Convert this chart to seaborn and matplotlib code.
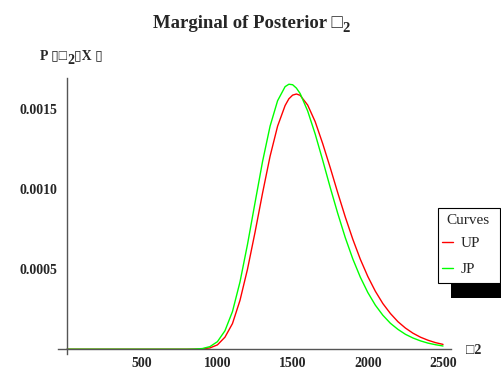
import numpy as np
import pandas as pd
import matplotlib
matplotlib.use("Agg")
import matplotlib.pyplot as plt
from matplotlib.lines import Line2D
from matplotlib.patches import Rectangle
from matplotlib.ticker import MultipleLocator
import seaborn as sns

# ---------------- data ----------------
sigma2 = [0, 200, 400, 600, 800, 850, 900, 950, 1000, 1050, 1100, 1150, 1200,
          1250, 1300, 1350, 1400, 1450, 1475, 1500, 1525, 1550, 1600, 1650,
          1700, 1750, 1800, 1850, 1900, 1950, 2000, 2050, 2100, 2150, 2200,
          2250, 2300, 2350, 2400, 2450, 2500]

up_dens = [0, 0, 0, 0, 0, 0.0000005, 0.000002, 0.000008, 0.000027, 0.000075,
           0.000160, 0.000305, 0.000500, 0.000730, 0.000975, 0.001205,
           0.001393, 0.001522, 0.001564, 0.001587, 0.001594, 0.001586,
           0.001525, 0.001421, 0.001284, 0.001134, 0.000977, 0.000826,
           0.000687, 0.000562, 0.000454, 0.000362, 0.000285, 0.000223,
           0.000172, 0.000132, 0.000100, 0.000075, 0.000056, 0.000041,
           0.000030]

jp_dens = [0, 0, 0, 0, 0, 0.000001, 0.000004, 0.000016, 0.000047, 0.000115,
           0.000235, 0.000420, 0.000655, 0.000915, 0.001172, 0.001393,
           0.001552, 0.001640, 0.001655, 0.001652, 0.001631, 0.001597,
           0.001488, 0.001344, 0.001180, 0.001010, 0.000848, 0.000697,
           0.000564, 0.000450, 0.000354, 0.000275, 0.000212, 0.000162,
           0.000124, 0.000093, 0.000070, 0.000052, 0.000038, 0.000028,
           0.000020]

curve_names = ["UP", "JP"]
curve_colors = {"UP": "#ff0000", "JP": "#00ff00"}

x_ticks = [500, 1000, 1500, 2000, 2500]
y_ticks = [0.0005, 0.0010, 0.0015]
y_tick_labels = ["0.0005", "0.0010", "0.0015"]

df = pd.DataFrame({
    "sigma2": sigma2 + sigma2,
    "dens": up_dens + jp_dens,
    "curve": ["UP"] * len(sigma2) + ["JP"] * len(sigma2),
})

# ---------------- plot ----------------
sns.set_style("white")
plt.rcParams["font.family"] = ["Liberation Serif", "DejaVu Sans"]

fig = plt.figure(figsize=(5.01, 3.71), dpi=100)
ax = fig.add_axes([58 / 501, 17 / 371, 393 / 501, 276 / 371])

sns.lineplot(data=df, x="sigma2", y="dens", hue="curve", hue_order=curve_names,
             palette=curve_colors, linewidth=1.0, legend=False, ax=ax)

ax.set_xlim(-60, 2553)
ax.set_ylim(-0.00003, 0.001694)

for s in ["top", "right"]:
    ax.spines[s].set_visible(False)
ax.spines["left"].set_position(("data", 0))
ax.spines["bottom"].set_position(("data", 0))
for s in ["left", "bottom"]:
    ax.spines[s].set_color("#555555")
    ax.spines[s].set_linewidth(1.0)

ax.set_xticks(x_ticks)
ax.set_xticklabels([str(t) for t in x_ticks])
ax.set_yticks(y_ticks)
ax.set_yticklabels(y_tick_labels)
ax.xaxis.set_minor_locator(MultipleLocator(100))
ax.yaxis.set_minor_locator(MultipleLocator(0.0001))
ax.tick_params(which="both", direction="in", color="#444444", width=0.8)
ax.tick_params(which="major", length=3.6)
ax.tick_params(which="minor", length=2.2)
ax.tick_params(axis="x", which="major", pad=5.5)
ax.tick_params(axis="y", which="major", pad=7)
for lab in ax.get_xticklabels() + ax.get_yticklabels():
    lab.set_fontweight("bold")
    lab.set_fontsize(10)
ax.set_xlabel("")
ax.set_ylabel("")

# title with subscript
t = fig.text(0.494, 0.938, "Marginal of Posterior \u25a1", ha="center", va="center",
             fontsize=13.5, fontweight="bold")
ax.annotate("2", xy=(1, 0.5), xycoords=t, xytext=(0.3, -4), textcoords="offset points",
            ha="left", va="center", fontsize=10.5, fontweight="bold")

# y axis label
yl = fig.text(40 / 501, 1 - 56 / 371, "P \u25af\u25a1", ha="left", va="center",
              fontsize=10, fontweight="bold")
y2 = ax.annotate("2", xy=(1, 0.5), xycoords=yl, xytext=(0, -3), textcoords="offset points",
                 ha="left", va="center", fontsize=10, fontweight="bold")
ax.annotate("\u25afX \u25af", xy=(1, 0.5), xycoords=y2, xytext=(0, 3), textcoords="offset points",
            ha="left", va="center", fontsize=10, fontweight="bold")

# x axis label at the end of the axis
fig.text(466 / 501, 1 - 350 / 371, "\u25a12", ha="left", va="center",
         fontsize=10, fontweight="bold")

# legend box with black drop shadow
fig.patches.append(Rectangle((451 / 501, 1 - 298 / 371), 62 / 501, 75 / 371,
                             transform=fig.transFigure, facecolor="black",
                             edgecolor="none", zorder=1))
fig.patches.append(Rectangle((438 / 501, 1 - 283 / 371), 62 / 501, 75 / 371,
                             transform=fig.transFigure, facecolor="white",
                             edgecolor="black", linewidth=0.8, zorder=2))
fig.text(467.5 / 501, 1 - 221 / 371, "Curves", ha="center", va="center",
         fontsize=11, zorder=6)
handles = [Line2D([], [], color=curve_colors[c], lw=1.0) for c in curve_names]
leg = fig.legend(handles, curve_names, loc="upper left",
                 bbox_to_anchor=(440 / 501, 1 - 234 / 371), bbox_transform=fig.transFigure,
                 frameon=False, fontsize=11, handlelength=0.7,
                 handletextpad=0.5, labelspacing=0.8, borderpad=0.15, borderaxespad=0)
leg.set_zorder(5)

fig.savefig("out.png", dpi=100)
